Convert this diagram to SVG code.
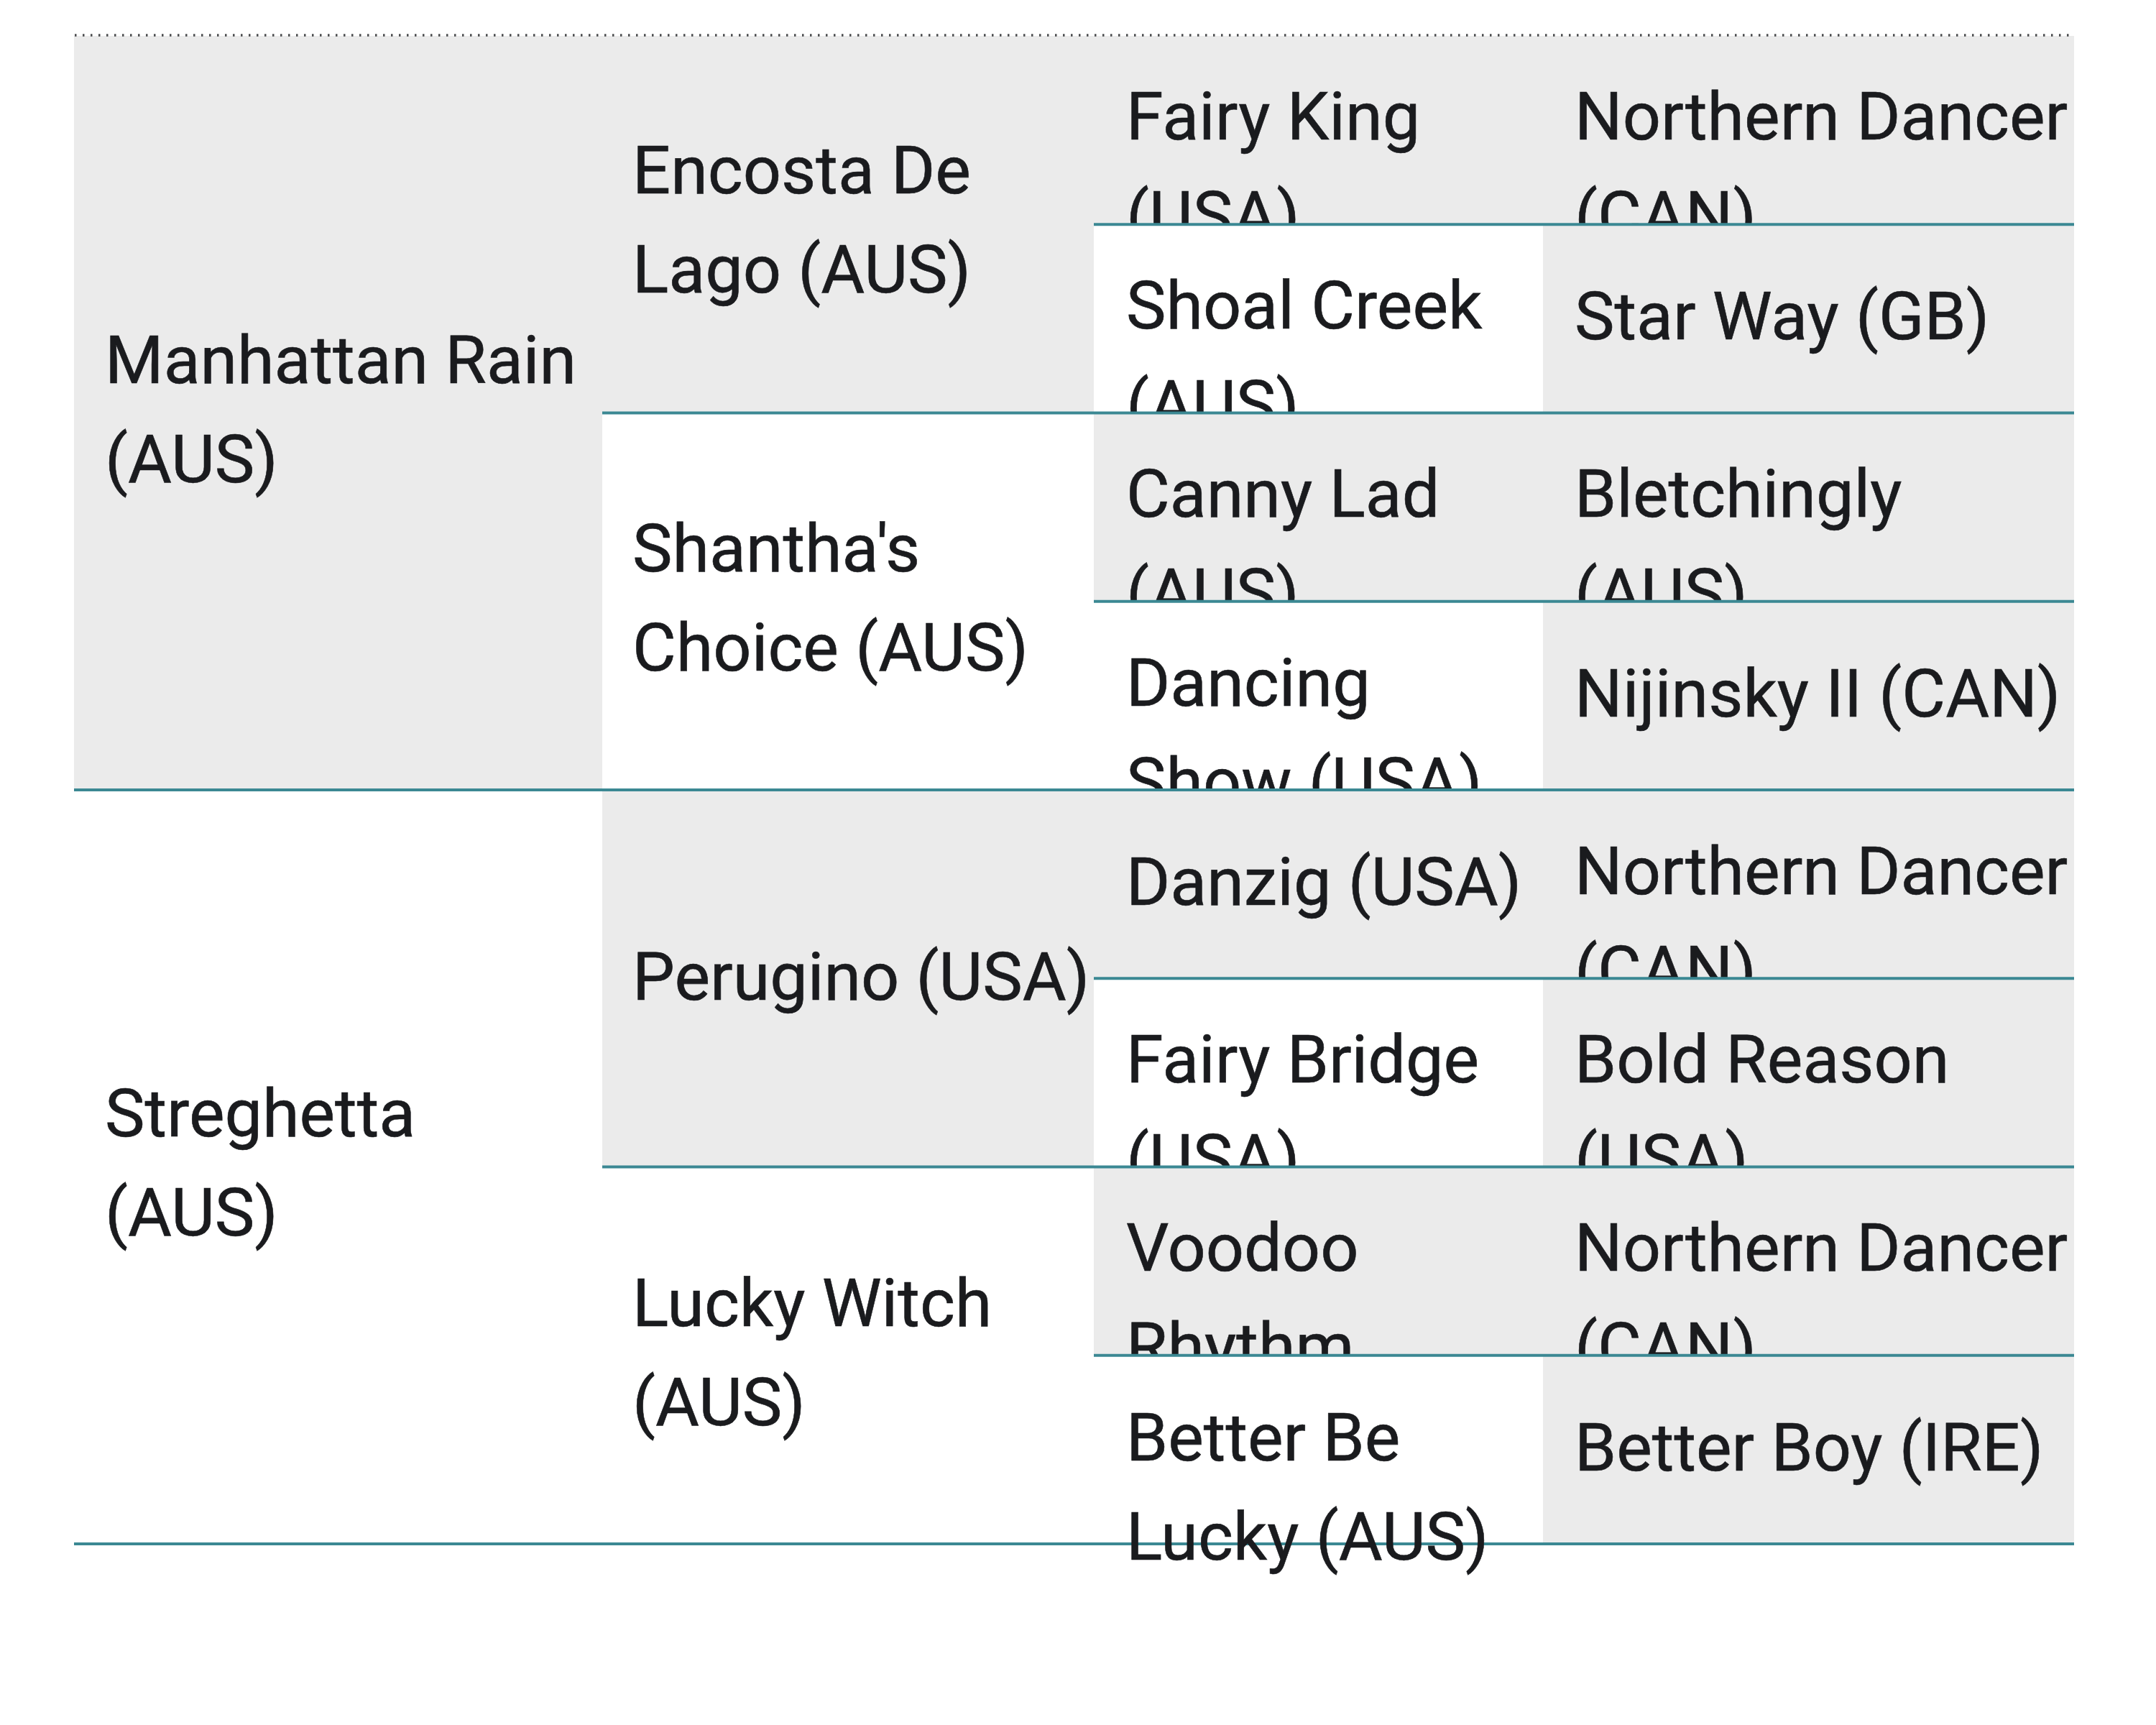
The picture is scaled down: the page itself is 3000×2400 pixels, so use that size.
<svg xmlns="http://www.w3.org/2000/svg" width="3000" height="2400" viewBox="0 0 3000 2400">
<style>
.g{fill:#ebebeb}
.ln{stroke:#3b8893;stroke-width:4;fill:none}
.dot{stroke:#4a4b4d;stroke-width:3.5;stroke-dasharray:2.5 8.5;fill:none}
.t{font-family:Roboto,"Noto Sans","Liberation Sans",sans-serif;font-size:93.5px;fill:#1a1b1e;stroke:#1a1b1e;stroke-width:0.6}
</style>
<defs>
<clipPath id="c0"><rect x="0" y="0" width="3000" height="312.25"/></clipPath>
<clipPath id="c1"><rect x="0" y="300" width="3000" height="274.5"/></clipPath>
<clipPath id="c2"><rect x="0" y="560" width="3000" height="276.75"/></clipPath>
<clipPath id="c3"><rect x="0" y="820" width="3000" height="279"/></clipPath>
<clipPath id="c4"><rect x="0" y="1090" width="3000" height="271.25"/></clipPath>
<clipPath id="c5"><rect x="0" y="1350" width="3000" height="273.5"/></clipPath>
<clipPath id="c6"><rect x="0" y="1610" width="3000" height="275.75"/></clipPath>
</defs>
<rect x="0" y="0" width="3000" height="2400" fill="#ffffff"/>
<g id="backgrounds">
<rect class="g" x="103" y="50" width="735" height="1049"/>
<rect class="g" x="838" y="50" width="684" height="524.5"/>
<rect class="g" x="838" y="1099" width="684" height="524.5"/>
<rect class="g" x="1522" y="50" width="625" height="262.25"/>
<rect class="g" x="1522" y="574.5" width="625" height="262.25"/>
<rect class="g" x="1522" y="1099" width="625" height="262.25"/>
<rect class="g" x="1522" y="1623.5" width="625" height="262.25"/>
<rect class="g" x="2147" y="50" width="739" height="2098"/>
</g>
<line class="dot" x1="104" y1="49" x2="2886" y2="49"/>
<line id="bottom-line" class="ln" x1="103" y1="2148" x2="2886" y2="2148"/>
<g id="n-manhattan-rain"><text class="t" x="146" y="533">Manhattan Rain</text><text class="t" x="146" y="671">(AUS)</text></g>
<g id="n-streghetta"><text class="t" x="146" y="1581">Streghetta</text><text class="t" x="146" y="1719">(AUS)</text></g>
<g id="n-encosta-de-lago"><text class="t" x="880" y="269">Encosta De</text><text class="t" x="880" y="407">Lago (AUS)</text></g>
<g id="n-shanthas-choice"><text class="t" x="880" y="795">Shantha's</text><text class="t" x="880" y="933">Choice (AUS)</text></g>
<g id="n-perugino"><text class="t" x="880" y="1391">Perugino (USA)</text></g>
<g id="n-lucky-witch"><text class="t" x="880" y="1845">Lucky Witch</text><text class="t" x="880" y="1983">(AUS)</text></g>
<g id="n-fairy-king" clip-path="url(#c0)"><text class="t" x="1567" y="194">Fairy King</text><text class="t" x="1567" y="332">(USA)</text></g>
<g id="n-northern-dancer-1" clip-path="url(#c0)"><text class="t" x="2191" y="194">Northern Dancer</text><text class="t" x="2191" y="332">(CAN)</text></g>
<g id="n-shoal-creek" clip-path="url(#c1)"><text class="t" x="1567" y="457">Shoal Creek</text><text class="t" x="1567" y="595">(AUS)</text></g>
<g id="n-star-way"><text class="t" x="2191" y="472">Star Way (GB)</text></g>
<g id="n-canny-lad" clip-path="url(#c2)"><text class="t" x="1567" y="719">Canny Lad</text><text class="t" x="1567" y="857">(AUS)</text></g>
<g id="n-bletchingly" clip-path="url(#c2)"><text class="t" x="2191" y="719">Bletchingly</text><text class="t" x="2191" y="857">(AUS)</text></g>
<g id="n-dancing-show" clip-path="url(#c3)"><text class="t" x="1567" y="982">Dancing</text><text class="t" x="1567" y="1120">Show (USA)</text></g>
<g id="n-nijinsky-ii"><text class="t" x="2191" y="997">Nijinsky II (CAN)</text></g>
<g id="n-danzig"><text class="t" x="1567" y="1259">Danzig (USA)</text></g>
<g id="n-northern-dancer-2" clip-path="url(#c4)"><text class="t" x="2191" y="1244">Northern Dancer</text><text class="t" x="2191" y="1382">(CAN)</text></g>
<g id="n-fairy-bridge" clip-path="url(#c5)"><text class="t" x="1567" y="1506">Fairy Bridge</text><text class="t" x="1567" y="1644">(USA)</text></g>
<g id="n-bold-reason" clip-path="url(#c5)"><text class="t" x="2191" y="1506">Bold Reason</text><text class="t" x="2191" y="1644">(USA)</text></g>
<g id="n-voodoo-rhythm" clip-path="url(#c6)"><text class="t" x="1567" y="1768">Voodoo</text><text class="t" x="1567" y="1906">Rhythm</text></g>
<g id="n-northern-dancer-3" clip-path="url(#c6)"><text class="t" x="2191" y="1768">Northern Dancer</text><text class="t" x="2191" y="1906">(CAN)</text></g>
<g id="n-better-be-lucky"><text class="t" x="1567" y="2032">Better Be</text><text class="t" x="1567" y="2170">Lucky (AUS)</text></g>
<g id="n-better-boy"><text class="t" x="2191" y="2046">Better Boy (IRE)</text></g>
<g id="connectors">
<line class="ln" x1="1522" y1="312.25" x2="2886" y2="312.25"/>
<line class="ln" x1="838" y1="574.5" x2="2886" y2="574.5"/>
<line class="ln" x1="1522" y1="836.75" x2="2886" y2="836.75"/>
<line class="ln" x1="103" y1="1099" x2="2886" y2="1099"/>
<line class="ln" x1="1522" y1="1361.25" x2="2886" y2="1361.25"/>
<line class="ln" x1="838" y1="1623.5" x2="2886" y2="1623.5"/>
<line class="ln" x1="1522" y1="1885.75" x2="2886" y2="1885.75"/>
</g>
</svg>
